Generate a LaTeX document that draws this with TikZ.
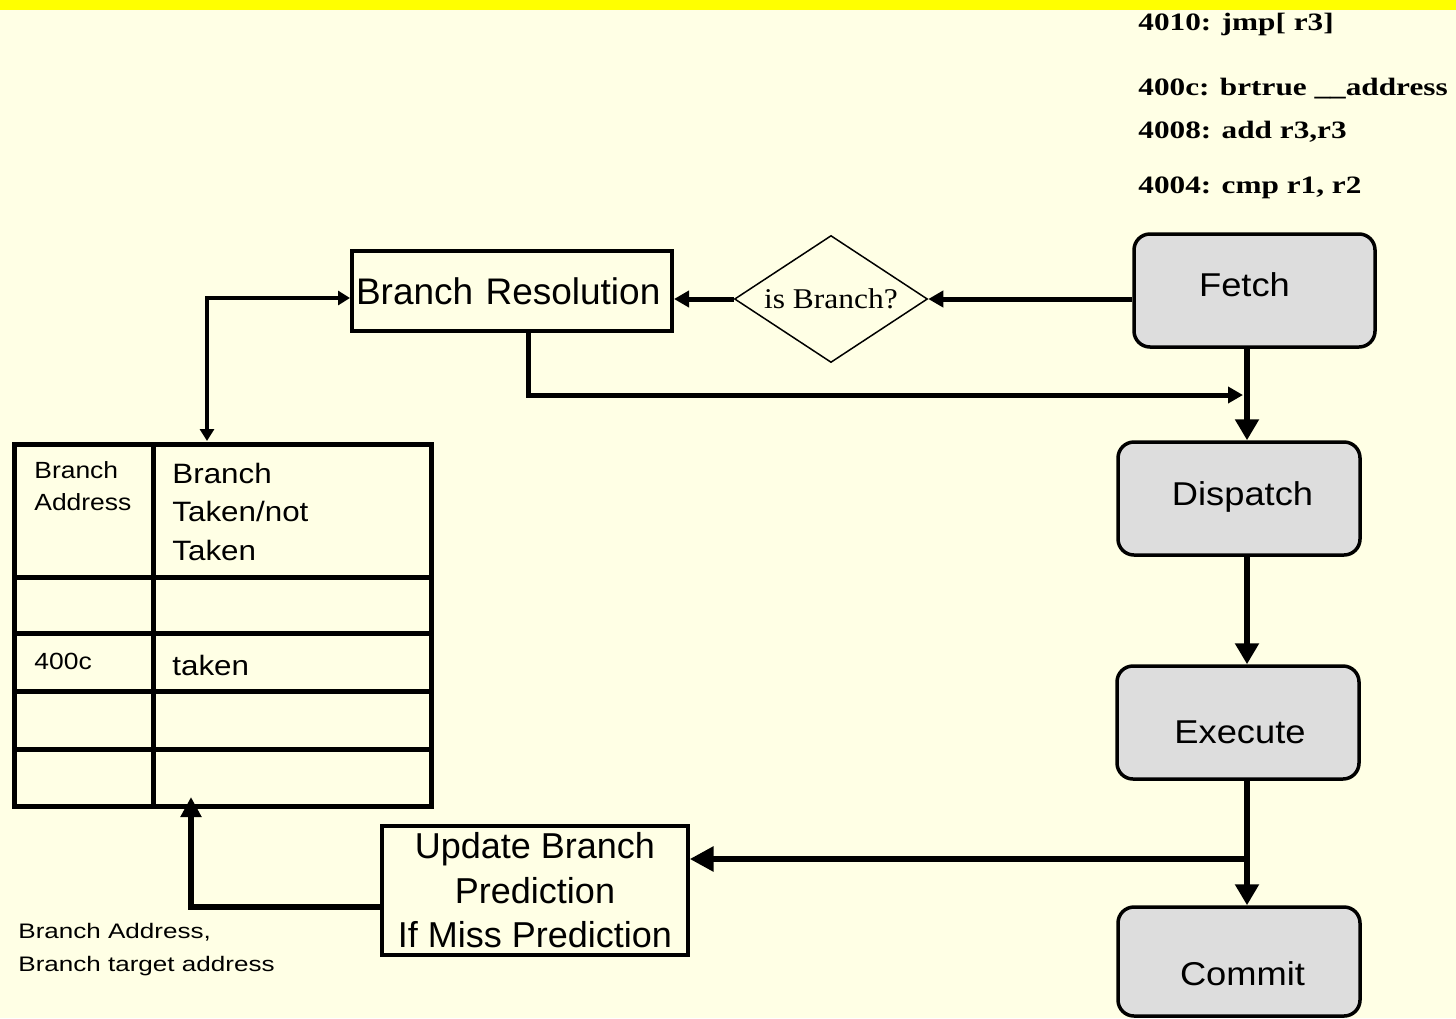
\documentclass[tikz,border=0pt]{standalone}
\usepackage{fontspec}
\setmainfont{Liberation Sans}
\newfontfamily\stagefont{Liberation Sans}[FakeStretch=1.1]
\newfontfamily\notefont{Liberation Sans}[FakeStretch=1.24]
\newfontfamily\colAfont{Liberation Sans}[FakeStretch=1.13]
\newfontfamily\colBfont{Liberation Sans}[FakeStretch=1.12]
\newfontfamily\codefont{Liberation Serif}[FakeStretch=1.25]
\newfontfamily\askfont{Liberation Serif}[FakeStretch=1.1]
\usetikzlibrary{arrows.meta,shapes.geometric,calc}
\definecolor{paper}{RGB}{255,255,229}
\definecolor{band}{RGB}{255,255,0}
\definecolor{stagefill}{RGB}{221,221,221}
\begin{document}
\begin{tikzpicture}[x=0.5pt,y=-0.5pt,
  stage/.style={draw, line width=1.75pt, fill=stagefill, rounded corners=8pt,
    minimum width=121pt, minimum height=56.5pt, inner sep=0pt},
  stagetxt/.style={font=\fontsize{16.5pt}{19pt}\stagefont, inner sep=0pt, anchor=base},
  codetxt/.style={font=\fontsize{12.5pt}{15pt}\codefont\bfseries, inner sep=0pt, anchor=base west},
  thick conn/.style={line width=3pt},
  mid conn/.style={line width=2.5pt},
  thin conn/.style={line width=2pt},
  bigtip/.style={-{Triangle[length=10.5pt,width=11.5pt]}},
  smalltip/.style={-{Triangle[length=7.5pt,width=8pt]}},
  tableline/.style={line width=2.5pt},
]
% page and title band
\fill[paper] (0,0) rectangle (1456,1018);
\useasboundingbox (0,0) rectangle (1456,1018);
\fill[band] (0,0) rectangle (1456,10);

% instruction listing
\node[codetxt] (c1) at (1138,30) {4010: jmp[ r3]};
\node[codetxt] (c2) at (1138,95) {400c: brtrue \_\_address};
\node[codetxt] (c3) at (1138,138) {4008: add r3,r3};
\node[codetxt] (c4) at (1138,193) {4004: cmp r1, r2};

% pipeline stages
\node[stage, minimum width=120.5pt] (fetch) at (1254.5,290.5) {};
\node[stagetxt] (fetchT) at (1244.5,296) {Fetch};
\node[stage] (dispatch) at (1239,498.5) {};
\node[stagetxt] (dispatchT) at (1242.5,505) {Dispatch};
\node[stage] (execute) at (1238,722.5) {};
\node[stagetxt] (executeT) at (1240,743) {Execute};
\node[stage, minimum height=54.5pt] (commit) at (1239,961.5) {};
\node[stagetxt] (commitT) at (1242.5,985) {Commit};

% branch handling
\node[diamond, draw, line width=0.75pt, shape aspect=1.52, inner sep=0pt,
  minimum width=96.5pt, minimum height=63.5pt,
  font=\fontsize{14.3pt}{17pt}\askfont] (isb) at (831,299) {is Branch?};
\node[draw, line width=2pt, inner xsep=2pt, inner ysep=0pt, text width=156pt,
  align=left, minimum height=40pt,
  font=\fontsize{18.5pt}{22pt}\selectfont] (br) at (512,291) {Branch Resolution};
\node[draw, line width=1.7pt, inner sep=0pt, minimum width=153pt,
  minimum height=64.5pt, align=center,
  font=\fontsize{18pt}{22.3pt}\selectfont] (upd) at (535,890.5)
  {Update Branch\\Prediction\\If Miss Prediction};

% prediction table (multi-line cells are placed by their last baseline)
\draw[tableline] (14,444) rectangle (431,806);
\draw[tableline] (153,444) -- (153,806);
\foreach \ry in {577,633.5,691,749} \draw[tableline] (14,\ry) -- (431,\ry);
\node[font=\fontsize{11.7pt}{16pt}\colAfont, inner sep=0pt, anchor=base west,
  align=left] (hA) at (34,510) {Branch\\Address};
\node[font=\fontsize{14pt}{19.25pt}\colBfont, inner sep=0pt, anchor=base west,
  align=left] (hB) at (172,560) {Branch\\Taken/not\\Taken};
\node[font=\fontsize{11.7pt}{16pt}\colAfont, inner sep=0pt, anchor=base west] (rA) at (34,669) {400c};
\node[font=\fontsize{14pt}{19.25pt}\colBfont, inner sep=0pt, anchor=base west] (rB) at (172,675) {taken};

% note under the table
\node[font=\fontsize{10.5pt}{16.5pt}\notefont, inner sep=0pt, anchor=base west,
  align=left] (note) at (18,971) {Branch Address,\\Branch target address};

% connector end points
\coordinate (brdrop) at (528,0);
\coordinate (jd) at (1247,395);
\coordinate (je) at (1247,859);
\coordinate (tt) at (207,441);
\coordinate (tb) at (191,797);

% connectors
\draw[mid conn, smalltip] (fetch.west |- isb.east) -- (isb.east);
\draw[mid conn, smalltip] (isb.west) -- (isb.west -| br.east);
\draw[mid conn, -{Triangle[length=7.5pt,width=8pt]}] (br.south -| brdrop) |- ($(jd)+(-4,0)$);
\draw[thick conn, bigtip] (fetch.south -| jd) -- (dispatch.north -| jd);
\draw[thick conn, bigtip] (dispatch.south -| jd) -- (execute.north -| jd);
\draw[thick conn, bigtip] (execute.south -| je) -- (commit.north -| je);
\draw[thick conn, -{Triangle[length=12pt,width=12pt]}] (je) -- (je -| upd.east);
\draw[thick conn, -{Triangle[length=10pt,width=10pt]}] ($(upd.west)+(0,16.5)$) -| (tb);
\draw[thin conn, {Triangle[length=6pt,width=7pt]}-{Triangle[length=6pt,width=7pt]}]
  ($(br.west)+(0,7)$) -| (tt);
\end{tikzpicture}
\end{document}
